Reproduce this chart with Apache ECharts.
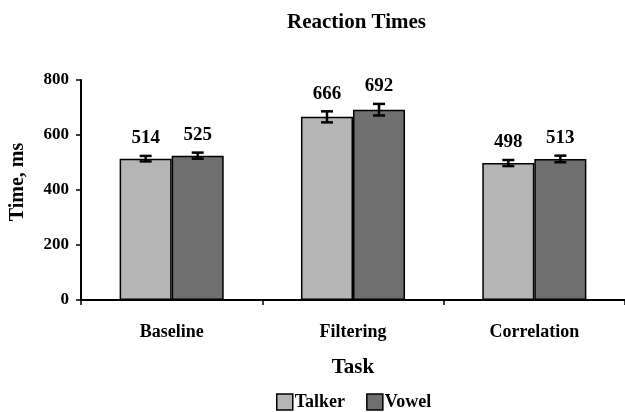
<!DOCTYPE html>
<html>
<head>
<meta charset="utf-8">
<script src="https://cdn.jsdelivr.net/npm/echarts@6/dist/echarts.min.js"></script>
<style>html,body{margin:0;padding:0;background:#fff}#c{width:625px;height:412px}</style>
</head>
<body>
<div id="c"></div>
<script>
var categories = ['Baseline', 'Filtering', 'Correlation'];
var talker = [514, 666, 498];
var vowel = [525, 692, 513];
var talkerErr = [10, 20, 11];
var vowelErr = [11, 21, 12];
var yTicks = [0, 200, 400, 600, 800];

var FONT = '"Liberation Serif", "Times New Roman", serif';
var BAR_RATIO = 0.287;

function errSeries(name, vals, errs, side) {
  var data = vals.map(function (v, i) { return [i, v, errs[i]]; });
  return {
    type: 'custom',
    name: name + ' err',
    z: 10,
    data: data,
    renderItem: function (params, api) {
      var i = api.value(0), v = api.value(1), e = api.value(2);
      var band = api.size([1, 0])[0];
      var bw = band * BAR_RATIO;
      var c = api.coord([i, v]);
      var x = c[0] + side * bw / 2;
      var top = api.coord([i, v + e])[1];
      var bot = api.coord([i, v - e])[1];
      var cap = 6;
      var st = { stroke: '#000', lineWidth: 2.5 };
      return {
        type: 'group',
        children: [
          { type: 'line', shape: { x1: x, y1: top, x2: x, y2: bot }, style: st },
          { type: 'line', shape: { x1: x - cap, y1: top, x2: x + cap, y2: top }, style: st },
          { type: 'line', shape: { x1: x - cap, y1: bot, x2: x + cap, y2: bot }, style: st },
          { type: 'text', x: x, y: top - 8,
            style: { text: String(v), fill: '#000', font: 'bold 19px ' + FONT, align: 'center', verticalAlign: 'bottom' } }
        ]
      };
    }
  };
}

var chart = echarts.init(document.getElementById('c'), null, { renderer: 'canvas' });
chart.setOption({
  animation: false,
  backgroundColor: '#fff',
  title: {
    text: 'Reaction Times', left: 287, top: 12, padding: 0,
    textStyle: { fontFamily: FONT, fontWeight: 'bold', fontSize: 21, color: '#000' }
  },
  legend: {
    bottom: 1, left: 276, itemWidth: 16, itemHeight: 16, itemGap: 21, padding: 0,
    icon: 'rect',
    data: ['Talker', 'Vowel'],
    itemStyle: { borderColor: '#000', borderWidth: 1.5 },
    textStyle: { fontFamily: FONT, fontWeight: 'bold', fontSize: 18, color: '#000', padding: [0, 0, 0, -3] }
  },
  grid: { left: 80, top: 80, height: 220, width: 546 },
  xAxis: {
    type: 'category', data: categories,
    name: 'Task', nameLocation: 'middle', nameGap: 57,
    nameTextStyle: { fontFamily: FONT, fontWeight: 'bold', fontSize: 21, color: '#000' },
    axisLine: { lineStyle: { color: '#000', width: 2 } },
    axisTick: { show: true, length: 5, lineStyle: { color: '#000', width: 1.5 } },
    axisLabel: { margin: 23, fontFamily: FONT, fontWeight: 'bold', fontSize: 18, color: '#000' }
  },
  yAxis: {
    type: 'value', min: yTicks[0], max: yTicks[yTicks.length - 1], interval: 200,
    name: 'Time, ms', nameLocation: 'middle', nameGap: 53, nameRotate: 90,
    nameTextStyle: { fontFamily: FONT, fontWeight: 'bold', fontSize: 20, color: '#000', padding: [0, 0, 0, 16] },
    axisLine: { show: true, lineStyle: { color: '#000', width: 2 } },
    axisTick: { show: true, length: 5, lineStyle: { color: '#000', width: 1.5 } },
    splitLine: { show: false },
    axisLabel: { margin: 12, fontFamily: FONT, fontWeight: 'bold', fontSize: 17, color: '#000' }
  },
  series: [
    { type: 'bar', name: 'Talker', data: talker, barWidth: (BAR_RATIO * 100) + '%', barGap: '0%',
      itemStyle: { color: '#b5b5b5', borderColor: '#000', borderWidth: 1.5 } },
    { type: 'bar', name: 'Vowel', data: vowel, barWidth: (BAR_RATIO * 100) + '%', barGap: '0%',
      itemStyle: { color: '#6f6f6f', borderColor: '#000', borderWidth: 1.5 } },
    errSeries('Talker', talker, talkerErr, -1),
    errSeries('Vowel', vowel, vowelErr, 1)
  ]
});
</script>
</body>
</html>
